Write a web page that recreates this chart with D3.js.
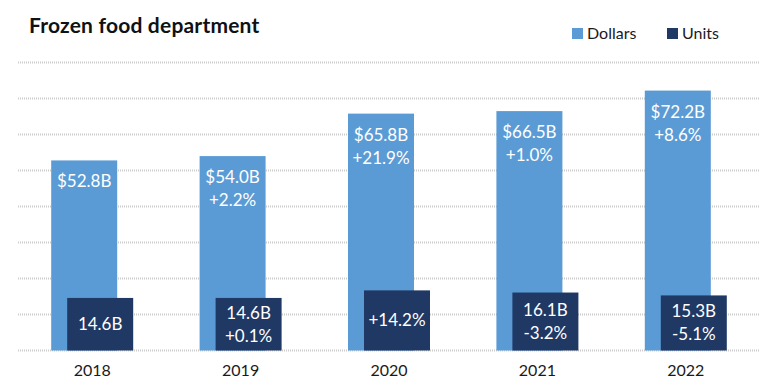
<!DOCTYPE html>
<html>
<head>
<meta charset="utf-8">
<script src="https://cdn.jsdelivr.net/npm/d3@7"></script>
<style>
  body { margin: 0; background: #fff; }
  svg { font-family: Lato, "Open Sans", sans-serif; }
</style>
</head>
<body>
<svg id="mychart" width="778" height="387"></svg>
<script>
// chart data
const years = ["2018", "2019", "2020", "2021", "2022"];
const dollars = [52.8, 54.0, 65.8, 66.5, 72.2];
const units = [14.6, 14.6, 16.7, 16.1, 15.3];
const dollarLabels = [["$52.8B"], ["$54.0B", "+2.2%"], ["$65.8B", "+21.9%"], ["$66.5B", "+1.0%"], ["$72.2B", "+8.6%"]];
const unitLabels = [["14.6B"], ["14.6B", "+0.1%"], ["+14.2%"], ["16.1B", "-3.2%"], ["15.3B", "-5.1%"]];
const yTicks = [0, 10, 20, 30, 40, 50, 60, 70, 80];

const colors = { dollars: "#5b9bd5", units: "#203864" };

const svg = d3.select("#mychart");
const margin = { left: 18, right: 760, top: 62.5, bottom: 350.5 };

const xScale = d3.scaleBand().domain(years).range([margin.left, margin.right]);
const yScale = d3.scaleLinear().domain([0, 80]).range([margin.bottom, margin.top]);

const barW = 66, offset = 16;
const cx = (y) => xScale(y) + xScale.bandwidth() / 2;

// gridlines
svg.append("g")
  .selectAll("line")
  .data(yTicks)
  .join("line")
  .attr("x1", margin.left)
  .attr("x2", margin.right)
  .attr("y1", (d) => yScale(d))
  .attr("y2", (d) => yScale(d))
  .attr("stroke", "#cccccc")
  .attr("stroke-width", 2)
  .attr("stroke-dasharray", "1,1");

// dollars bars
svg.append("g")
  .selectAll("rect")
  .data(years)
  .join("rect")
  .attr("x", (d) => cx(d) - 41)
  .attr("width", barW)
  .attr("y", (d, i) => yScale(dollars[i]))
  .attr("height", (d, i) => yScale(0) - yScale(dollars[i]))
  .attr("fill", colors.dollars);

// units bars (in front, shifted right)
svg.append("g")
  .selectAll("rect")
  .data(years)
  .join("rect")
  .attr("x", (d) => cx(d) - 41 + offset)
  .attr("width", barW)
  .attr("y", (d, i) => yScale(units[i]))
  .attr("height", (d, i) => yScale(0) - yScale(units[i]))
  .attr("fill", colors.units);

// dollar labels, inside end
years.forEach((yr, i) => {
  const x = cx(yr) - 41 + barW / 2;
  const t = svg.append("text")
    .attr("x", x)
    .attr("y", yScale(dollars[i]) + 27)
    .attr("text-anchor", "middle")
    .attr("fill", "#fff")
    .attr("font-size", 17);
  dollarLabels[i].forEach((s, k) => {
    t.append("tspan").attr("x", x).attr("dy", k === 0 ? 0 : 23).text(s);
  });
});

// unit labels, centered
years.forEach((yr, i) => {
  const lines = unitLabels[i];
  const x = cx(yr) - 41 + offset + barW / 2;
  const mid = (yScale(units[i]) + yScale(0)) / 2;
  const first = mid + 6 - (lines.length - 1) * 11.5;
  const t = svg.append("text")
    .attr("x", x)
    .attr("y", first)
    .attr("text-anchor", "middle")
    .attr("fill", "#fff")
    .attr("font-size", 17);
  lines.forEach((s, k) => {
    t.append("tspan").attr("x", x).attr("dy", k === 0 ? 0 : 23).text(s);
  });
});

// x axis labels
svg.append("g")
  .attr("transform", `translate(0,${margin.bottom})`)
  .call(d3.axisBottom(xScale).tickSize(0).tickPadding(14))
  .call((g) => g.select(".domain").remove())
  .selectAll("text")
  .attr("font-size", 16)
  .attr("font-family", "Lato, 'Open Sans', sans-serif")
  .attr("fill", "#1a1a1a");

// title
svg.append("text")
  .attr("x", 29)
  .attr("y", 33)
  .attr("font-size", 21)
  .attr("letter-spacing", 0.2)
  .attr("font-weight", "bold")
  .attr("fill", "#111")
  .text("Frozen food department");

// legend
const legend = [
  { name: "Dollars", color: colors.dollars, x: 572 },
  { name: "Units", color: colors.units, x: 667 },
];
const lg = svg.append("g");
lg.selectAll("rect")
  .data(legend)
  .join("rect")
  .attr("x", (d) => d.x)
  .attr("y", 28)
  .attr("width", 11)
  .attr("height", 11)
  .attr("fill", (d) => d.color);
lg.selectAll("text")
  .data(legend)
  .join("text")
  .attr("x", (d) => d.x + 15)
  .attr("y", 39)
  .attr("font-size", 16)
  .attr("fill", "#1a1a1a")
  .text((d) => d.name);
</script>
</body>
</html>
